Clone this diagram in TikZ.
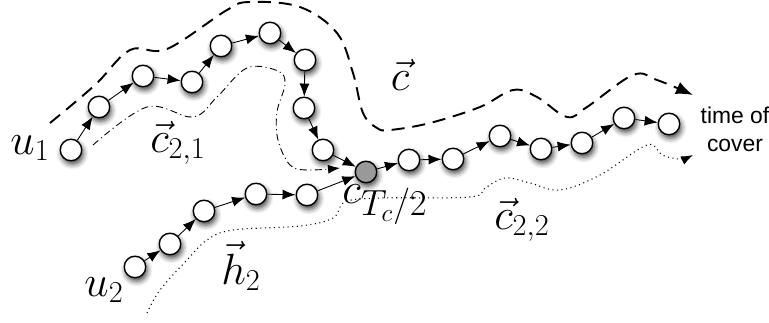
\documentclass[tikz,border=0pt]{standalone}
\usepackage{fontspec}
\newfontfamily\coverfont{Liberation Sans}
\usetikzlibrary{arrows.meta,shadows.blur}
\tikzset{
  vert/.style={circle,draw,fill=white,line width=0.8pt,minimum size=0.43cm,inner sep=0pt,
    blur shadow={shadow xshift=0.9pt,shadow yshift=-2pt,shadow blur radius=3pt,shadow opacity=75}},
  midvert/.style={vert,fill=black!40},
  hop/.style={-{Latex[length=2.6mm,width=2mm]},line width=0.5pt},
  lbl/.style={font=\fontsize{24}{28}\selectfont},
}
\begin{document}
\begin{tikzpicture}[x=0.02cm,y=-0.02cm]
\useasboundingbox (0,0) rectangle (769,322);

\coordinate (cstart) at (50,123);
\coordinate (cend) at (693,95);
\coordinate (ofirst) at (93,145);
\coordinate (ofirstend) at (340,168);
\coordinate (hstart) at (147,313);
\coordinate (hend) at (693,155);

\draw[line width=1.1pt,dash pattern=on 7.4pt off 4.5pt,-{Latex[length=3.4mm,width=2.6mm]}]
  plot[smooth,tension=0.6] coordinates {(cstart) (95,85) (130,50) (167,49) (227,10) (250,2)
  (300,7) (337,33) (353,73) (363,113) (377,128) (390,130) (430,123) (480,107) (513,90)
  (537,97) (567,117) (587,107) (633,75) (657,80) (cend)};
\draw[line width=0.5pt,dash pattern=on 4pt off 2pt on 0.6pt off 2pt,-{Latex[length=2.4mm,width=1.8mm]}]
  plot[smooth,tension=0.6] coordinates {(ofirst) (147,107) (193,117) (217,97) (247,68)
  (278,71) (285,84) (277,112) (278,140) (290,165) (307,170) (ofirstend)};
\draw[line width=0.6pt,dotted,-{Latex[length=2.4mm,width=1.8mm]}]
  plot[smooth,tension=0.6] coordinates {(hstart) (160,290) (187,260) (207,240) (233,230)
  (300,226) (333,218) (345,202) (380,198) (470,197) (485,188) (505,178) (530,183)
  (560,190) (600,175) (647,145) (662,155) (680,159) (hend)};

\node[vert] (u1) at (71,150) {};
\node[vert] (a2) at (99,107) {};
\node[vert] (a3) at (143,76) {};
\node[vert] (a4) at (192,82) {};
\node[vert] (a5) at (221,46) {};
\node[vert] (a6) at (270,33) {};
\node[vert] (a7) at (305,60) {};
\node[vert] (a8) at (304,108) {};
\node[vert] (a9) at (323,150) {};
\node[vert] (u2) at (135,267) {};
\node[vert] (b2) at (170,244) {};
\node[vert] (b3) at (204,211) {};
\node[vert] (b4) at (256,194) {};
\node[vert] (b5) at (307,195) {};
\node[midvert] (half) at (366,172) {};
\node[vert] (d1) at (409,160) {};
\node[vert] (d2) at (453,159) {};
\node[vert] (d3) at (500,136) {};
\node[vert] (d4) at (541,149) {};
\node[vert] (d5) at (582,143) {};
\node[vert] (d6) at (624,118) {};
\node[vert] (d7) at (669,124) {};

\draw[hop] (u1) -- (a2);
\draw[hop] (a2) -- (a3);
\draw[hop] (a3) -- (a4);
\draw[hop] (a4) -- (a5);
\draw[hop] (a5) -- (a6);
\draw[hop] (a6) -- (a7);
\draw[hop] (a7) -- (a8);
\draw[hop] (a8) -- (a9);
\draw[hop] (a9) -- (half);
\draw[hop] (u2) -- (b2);
\draw[hop] (b2) -- (b3);
\draw[hop] (b3) -- (b4);
\draw[hop] (b4) -- (b5);
\draw[hop] (b5) -- (half);
\draw[hop] (half) -- (d1);
\draw[hop] (d1) -- (d2);
\draw[hop] (d2) -- (d3);
\draw[hop] (d3) -- (d4);
\draw[hop] (d4) -- (d5);
\draw[hop] (d5) -- (d6);
\draw[hop] (d6) -- (d7);

\node[lbl] (lu1) at (30,148) {$u_1$};
\node[lbl] (lu2) at (104,290) {$u_2$};
\node[lbl] (lc) at (400,75) {$\vec{c}$};
\node[lbl] (lc21) at (178,143) {$\vec{c}_{2,1}$};
\node[lbl] (lc22) at (522,220) {$\vec{c}_{2,2}$};
\node[lbl] (lh2) at (241,266) {$\vec{h}_2$};
\node[font=\fontsize{23}{26}\selectfont] (lhalf) at (385,205) {$c_{\hbox{\fontsize{20}{24}\selectfont$T_c/2$}}$};
\node[align=center,font=\coverfont\fontsize{13}{16}\selectfont] (cover) at (735,129) {time of\\cover};
\end{tikzpicture}
\end{document}
